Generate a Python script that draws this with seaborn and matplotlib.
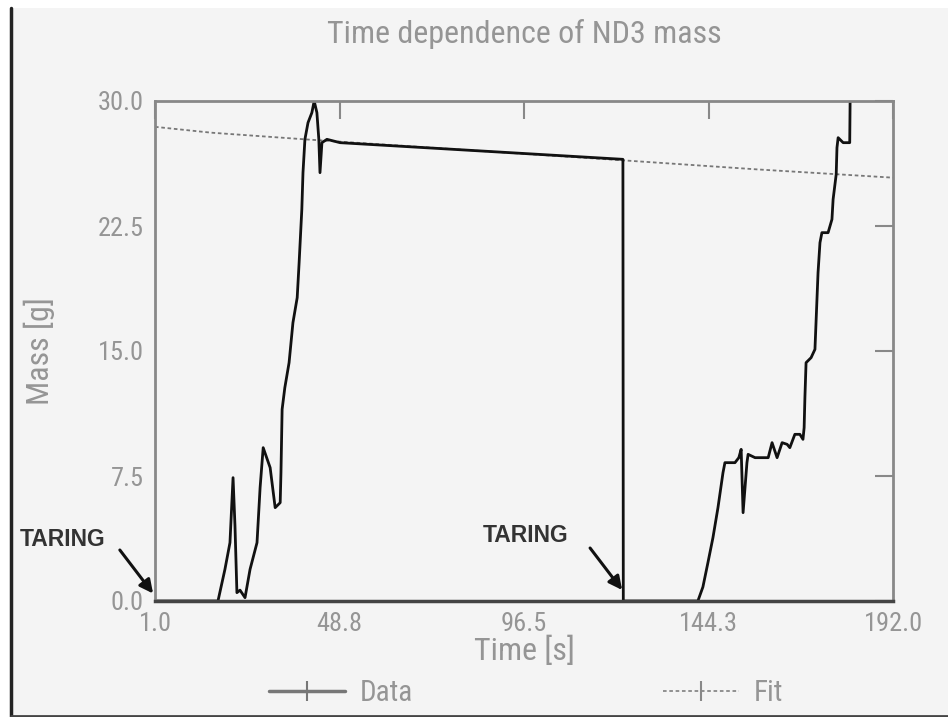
import pandas as pd
import matplotlib
matplotlib.use("Agg")
from matplotlib import pyplot as plt
from matplotlib import font_manager
from matplotlib.lines import Line2D
from matplotlib.patches import Rectangle
import seaborn as sns

# measured data (time in s, mass in g)
data_time = [1.0, 12.65, 17.3, 19.1, 20.4, 21.2, 21.7, 22.2, 23.0, 24.3, 25.6,
             27.4, 28.2, 29.0, 30.8, 32.1, 33.4, 33.6, 33.9, 34.6, 35.7, 36.2,
             36.7, 37.8, 38.3, 39.0, 39.3, 39.8, 40.6, 41.6, 42.2, 42.9, 43.4,
             43.7, 44.2, 45.5, 48.9, 122.1, 122.2, 141.5, 142.8, 144.1, 145.4,
             146.7, 148.0, 148.5, 151.1, 152.1, 152.7, 153.2, 154.2, 154.5,
             156.3, 157.6, 159.7, 160.7, 162.0, 163.3, 164.6, 165.3, 166.6,
             167.9, 168.7, 169.0, 169.2, 169.5, 170.8, 171.8, 172.6, 173.1,
             173.6, 175.2, 176.2, 176.5, 177.3, 177.5, 177.8, 179.1, 180.8, 180.9]
data_mass = [0.0, 0.0, 0.0, 1.9, 3.5, 7.4, 4.5, 0.5, 0.65, 0.2, 1.9,
             3.5, 6.8, 9.2, 8.0, 5.6, 5.9, 7.7, 11.5, 12.8, 14.3, 15.5,
             16.7, 18.2, 20.3, 23.5, 25.7, 27.7, 28.7, 29.3, 30.0, 29.3, 27.7,
             25.7, 27.5, 27.7, 27.5, 26.5, 0.0, 0.0, 0.84, 2.3, 3.8,
             5.6, 7.7, 8.3, 8.3, 8.6, 9.1, 5.3, 8.3, 8.8,
             8.6, 8.6, 8.6, 9.5, 8.6, 9.5, 9.4, 9.2, 10.0,
             10.0, 9.7, 10.4, 12.2, 14.3, 14.6, 15.1, 19.7, 21.5,
             22.1, 22.1, 22.9, 24.1, 25.6, 27.2, 27.8, 27.5, 27.5, 30.0]

# fitted curve
fit_time = [1.0, 15.5, 39.8, 124.7, 156.6, 192.0]
fit_mass = [28.45, 28.1, 27.7, 26.4, 25.9, 25.4]

x_ticks = [1.0, 48.8, 96.5, 144.3, 192.0]
x_labels = ["1.0", "48.8", "96.5", "144.3", "192.0"]
y_ticks = [0.0, 7.5, 15.0, 22.5, 30.0]
y_labels = ["0.0", "7.5", "15.0", "22.5", "30.0"]


def pick_font():
    names = {f.name for f in font_manager.fontManager.ttflist}
    for name in ["Roboto Condensed", "Liberation Sans Narrow", "DejaVu Sans Condensed"]:
        if name in names:
            return name, 19
    return "DejaVu Sans", 15


def main():
    sns.set_style("white")
    family, size = pick_font()
    plt.rcParams["font.family"] = [family, "DejaVu Sans"]
    text_grey = "#959595"

    fig = plt.figure(figsize=(9.48, 7.17), dpi=100, facecolor="white")
    fig.patches.append(Rectangle((11 / 948, 0), 1, 709 / 717, transform=fig.transFigure,
                                 facecolor="#f4f4f4", edgecolor="none", zorder=-10))
    fig.add_artist(Line2D([11 / 948, 11 / 948], [0, 709 / 717], color="#222222",
                          linewidth=2.5, transform=fig.transFigure))
    fig.add_artist(Line2D([11 / 948, 1], [1 / 717, 1 / 717], color="#444444",
                          linewidth=2, transform=fig.transFigure))

    ax = fig.add_axes([155 / 948, 1 - 601 / 717, 738 / 948, 500 / 717])
    ax.set_facecolor("#f4f4f4")

    df_data = pd.DataFrame({"Time": data_time, "Mass": data_mass})
    df_fit = pd.DataFrame({"Time": fit_time, "Mass": fit_mass})

    sns.lineplot(x="Time", y="Mass", data=df_fit, ax=ax, color="#777777",
                 linewidth=1.3, linestyle=(0, (2, 1.5)), estimator=None, sort=False)
    sns.lineplot(x="Time", y="Mass", data=df_data, ax=ax, color="#111111",
                 linewidth=2, estimator=None, sort=False)

    ax.set_xlim(1.0, 192.0)
    ax.set_ylim(0.0, 30.0)
    ax.set_xticks(x_ticks)
    ax.set_xticklabels(x_labels)
    ax.set_yticks(y_ticks)
    ax.set_yticklabels(y_labels)
    ax.tick_params(direction="in", length=13, width=1.5, color="#888888",
                   labelcolor=text_grey, labelsize=size, top=True, right=True,
                   pad=8)
    for side in ["top", "left", "right"]:
        ax.spines[side].set_color("#888888")
        ax.spines[side].set_linewidth(2)
    ax.spines["bottom"].set_color("#444444")
    ax.spines["bottom"].set_linewidth(2.5)

    ax.set_title("Time dependence of ND3 mass", color=text_grey, fontsize=size + 4, pad=42)
    ax.set_xlabel("Time [s]", color=text_grey, fontsize=size + 4, labelpad=0)
    ax.set_ylabel("Mass [g]", color=text_grey, fontsize=size + 4, labelpad=31)

    # taring labels and arrows
    ax.text(-22.8, 3.7, "TARING", fontsize=16.5, fontweight="bold", color="#333333",
            ha="center", va="center", family=["Liberation Sans", "DejaVu Sans"])
    ax.text(96.8, 3.95, "TARING", fontsize=16.5, fontweight="bold", color="#333333",
            ha="center", va="center", family=["Liberation Sans", "DejaVu Sans"])
    arrow = dict(arrowstyle="-|>", color="#111111", lw=2.2, mutation_scale=20,
                 shrinkA=0, shrinkB=0)
    ax.annotate("", xy=(0.5, 0.45), xytext=(-8.1, 3.06), arrowprops=arrow,
                annotation_clip=False)
    ax.annotate("", xy=(121.9, 0.66), xytext=(113.6, 3.18), arrowprops=arrow,
                annotation_clip=False)

    handles = [Line2D([], [], color="#777777", linewidth=2.5, marker="|",
                      markersize=14, markeredgewidth=1.5),
               Line2D([], [], color="#888888", linewidth=1.3, linestyle=(0, (2, 1.5)),
                      marker="|", markersize=14, markeredgewidth=1.5)]
    fig.legend(handles, ["Data", "Fit"], loc="center", bbox_to_anchor=(0.555, 0.033),
               ncol=2, frameon=False, fontsize=size + 2, handlelength=2.6,
               handletextpad=0.5, columnspacing=8.6, labelcolor=text_grey)

    fig.savefig("out.png", dpi=100, facecolor=fig.get_facecolor())


if __name__ == "__main__":
    main()
